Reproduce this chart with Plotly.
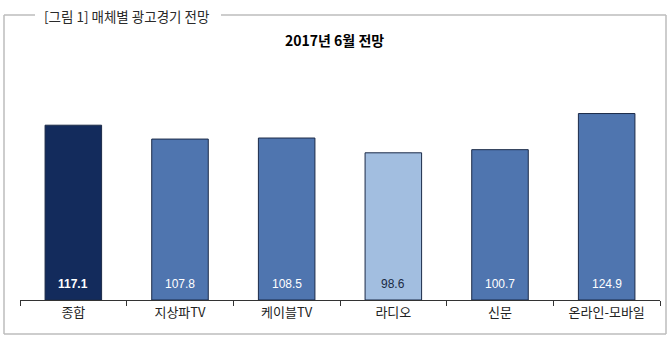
import plotly.graph_objects as go

categories = ["종합", "지상파TV", "케이블TV", "라디오", "신문", "온라인-모바일"]
values = [117.1, 107.8, 108.5, 98.6, 100.7, 124.9]
bar_colors = ["#132B5C", "#4F75AF", "#4F75AF", "#A2BEE0", "#4F75AF", "#4F75AF"]
label_colors = ["#FFFFFF", "#FFFFFF", "#FFFFFF", "#1A2A44", "#FFFFFF", "#FFFFFF"]
title_text = "2017년 6월 전망"
header_text = "[그림 1] 매체별 광고경기 전망"

W, H = 671, 342
def px(x): return x / W
def py(y): return 1 - y / H

texts = [f"<b>{v}</b>" if i == 0 else f"{v}" for i, v in enumerate(values)]

fig = go.Figure(go.Bar(
    x=categories, y=values,
    marker=dict(color=bar_colors, line=dict(color="#1B2A48", width=1)),
    width=0.53, hoverinfo="skip",
))

line_c = "#BDBDBD"
shapes = [
    dict(type="line", xref="paper", yref="paper", x0=px(4), x1=px(4), y0=py(15), y1=py(334), line=dict(color=line_c, width=1.5)),
    dict(type="line", xref="paper", yref="paper", x0=px(4), x1=px(666), y0=py(334), y1=py(334), line=dict(color=line_c, width=1.5)),
    dict(type="line", xref="paper", yref="paper", x0=px(666), x1=px(666), y0=py(15), y1=py(334), line=dict(color=line_c, width=1.5)),
    dict(type="line", xref="paper", yref="paper", x0=px(4), x1=px(35), y0=py(15), y1=py(15), line=dict(color=line_c, width=1.5)),
    dict(type="line", xref="paper", yref="paper", x0=px(221), x1=px(666), y0=py(15), y1=py(15), line=dict(color=line_c, width=1.5)),
]

annotations = [
    dict(text=header_text, xref="paper", yref="paper", x=px(42), y=py(16), xanchor="left", yanchor="middle",
         showarrow=False, font=dict(size=13.5, color="#2A2A2A", family="Noto Sans CJK KR, sans-serif")),
    dict(text=f"<b>{title_text}</b>", xref="paper", yref="paper", x=px(334), y=py(40), xanchor="center", yanchor="middle",
         showarrow=False, font=dict(size=14, color="#000000", family="Liberation Sans Narrow, Noto Sans CJK KR, sans-serif")),
]
for cat, t, c in zip(categories, texts, label_colors):
    annotations.append(dict(text=t, x=cat, y=0, xref="x", yref="y", yanchor="bottom", yshift=7,
                            showarrow=False,
                            font=dict(size=12, color=c, family="Liberation Sans Narrow, Arial Narrow, Liberation Sans, sans-serif")))

fig.update_layout(
    width=W, height=H, margin=dict(l=0, r=0, t=0, b=0),
    paper_bgcolor="white", plot_bgcolor="white",
    showlegend=False, shapes=shapes, annotations=annotations,
    xaxis=dict(domain=[px(20), px(660)], showline=True, linecolor="#333333", linewidth=1,
               ticks="outside", tickson="boundaries", ticklen=5, tickcolor="#333333",
               showgrid=False, tickfont=dict(size=13, color="#222222", family="Noto Sans CJK KR, sans-serif")),
    yaxis=dict(domain=[py(300), py(91)], range=[0, 140], visible=False, showgrid=False),
    font=dict(family="Noto Sans CJK KR, sans-serif"),
)

fig.write_html("out.html")
